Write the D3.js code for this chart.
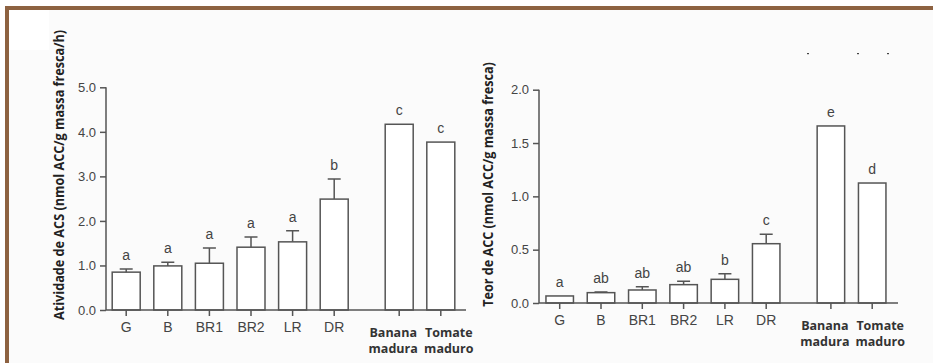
<!DOCTYPE html>
<meta charset="utf-8">
<style>
  body { margin: 0; background: #fff; }
  svg { display: block; font-family: "Liberation Sans", Arial, sans-serif; }
  .tick-label { fill: #444; font-size: 13px; }
  .cat-label { fill: #444; font-size: 14px; text-anchor: middle; }
  .cat-bold { fill: #333; font-size: 12.5px; font-weight: bold; text-anchor: middle; font-family: "Open Sans", sans-serif; }
  .axis-title { fill: #222; font-weight: bold; font-family: "Open Sans", sans-serif; font-size: 14.5px; text-anchor: middle; }
  .letter { fill: #444; font-size: 14px; text-anchor: middle; }
  .bar { fill: #fff; stroke: #555; stroke-width: 1.5; }
  .line { stroke: #555; stroke-width: 1.5; fill: none; }
</style>
<body>
<svg id="chart" width="933" height="363"></svg>
<script src="https://d3js.org/d3.v7.min.js"></script>
<script>
// categories shared by both panels
var categories = ["G", "B", "BR1", "BR2", "LR", "DR", "Banana madura", "Tomate maduro"]

// left panel: ACS activity
var acsValues = [0.85, 0.99, 1.05, 1.41, 1.53, 2.49, 4.17, 3.77]
var acsErrors = [0.07, 0.08, 0.34, 0.23, 0.25, 0.45, null, null]
var acsLetters = ["a", "a", "a", "a", "a", "b", "c", "c"]
var acsTicks = [0, 1, 2, 3, 4, 5]

// right panel: ACC content
var accValues = [0.066, 0.097, 0.122, 0.172, 0.222, 0.556, 1.66, 1.125]
var accErrors = [null, 0.005, 0.031, 0.031, 0.053, 0.088, null, null]
var accLetters = ["a", "ab", "ab", "ab", "b", "c", "e", "d"]
var accTicks = [0, 0.5, 1.0, 1.5, 2.0]

var svg = d3.select("#chart")

// faint scan background + brown page frame
svg.append("rect").attr("x", 9).attr("y", 10).attr("width", 924).attr("height", 353).attr("fill", "#fbfbfb")
svg.append("rect").attr("x", 9).attr("y", 10).attr("width", 40).attr("height", 40).attr("fill", "#fff")
svg.append("rect").attr("x", 5).attr("y", 6).attr("width", 928).attr("height", 4).attr("fill", "#8d6241")
svg.append("rect").attr("x", 5).attr("y", 6).attr("width", 4).attr("height", 357).attr("fill", "#8d6241")

function drawPanel(opt) {
  var g = svg.append("g")
  var y = d3.scaleLinear().domain(opt.domain).range([opt.y0, opt.yTop])
  var x = function(i) { return opt.first + i * opt.step + (i >= 6 ? opt.gap : 0) }

  // y axis
  var yAxis = d3.axisLeft(y).tickValues(opt.ticks).tickSize(6).tickPadding(4)
    .tickFormat(d3.format(".1f"))
  var ya = g.append("g").attr("transform", "translate(" + opt.axisX + ",0)").call(yAxis)
  ya.select(".domain").attr("stroke", "#555").attr("stroke-width", 1.5)
    .attr("d", "M0," + opt.yTop + "V" + opt.y0)
  ya.selectAll(".tick line").attr("stroke", "#555").attr("stroke-width", 1.5)
  ya.selectAll(".tick text").attr("class", "tick-label").attr("font-family", null).attr("font-size", null)

  // bars
  g.selectAll(".bar").data(opt.values).join("rect")
    .attr("class", "bar")
    .attr("x", function(d, i) { return x(i) - opt.barW / 2 })
    .attr("y", function(d) { return y(d) })
    .attr("width", opt.barW)
    .attr("height", function(d) { return opt.y0 - y(d) })

  // error bars (upper only)
  opt.values.forEach(function(v, i) {
    var e = opt.errors[i]
    if (e == null) return
    g.append("path").attr("class", "line")
      .attr("d", "M" + x(i) + "," + y(v) + "V" + y(v + e) +
        "M" + (x(i) - 6.5) + "," + y(v + e) + "H" + (x(i) + 6.5))
  })

  // significance letters
  g.selectAll(".letter").data(opt.letters).join("text")
    .attr("class", "letter")
    .attr("x", function(d, i) { return x(i) })
    .attr("y", function(d, i) {
      var top = opt.values[i] + (opt.errors[i] || 0)
      return y(top) - 9
    })
    .text(function(d) { return d })

  // x axis line + ticks
  g.append("path").attr("class", "line").attr("d", "M" + opt.axisX + "," + opt.y0 + "H" + opt.axisEnd)
  categories.forEach(function(c, i) {
    g.append("path").attr("class", "line").attr("d", "M" + x(i) + "," + opt.y0 + "v6")
    var words = c.split(" ")
    if (words.length == 1) {
      g.append("text").attr("class", "cat-label").attr("x", x(i)).attr("y", opt.y0 + 22).text(c)
    } else {
      var dx = i == 6 ? -6 : 8
      words.forEach(function(w, k) {
        g.append("text").attr("class", "cat-bold").attr("x", x(i) + dx)
          .attr("y", opt.y0 + 27 + k * 16).text(w)
      })
    }
  })

  // y title, squeezed along its length to fit the narrow scanned font
  var t = g.append("text").attr("class", "axis-title").text(opt.title)
  var sx = Math.min(1, opt.titleLen / t.node().getComputedTextLength())
  t.attr("transform", "translate(" + opt.titleX + "," + opt.titleY + ") rotate(-90) scale(" + sx + ",1)")
}

drawPanel({
  domain: [0, 5], y0: 310, yTop: 87.3, ticks: acsTicks,
  axisX: 106, axisEnd: 466, first: 126.2, step: 41.6, gap: 23.4, barW: 28,
  values: acsValues, errors: acsErrors, letters: acsLetters,
  title: "Atividade de ACS (nmol ACC/g massa fresca/h)", titleX: 64, titleY: 175, titleLen: 290
})

drawPanel({
  domain: [0, 2], y0: 303, yTop: 89.7, ticks: accTicks,
  axisX: 539, axisEnd: 898, first: 559.7, step: 41.3, gap: 23.4, barW: 27.5,
  values: accValues, errors: accErrors, letters: accLetters,
  title: "Teor de ACC (nmol ACC/g massa fresca)", titleX: 493, titleY: 184.5, titleLen: 245
})

// small crop remnants near the top right
svg.selectAll(".speck").data([808, 858, 888]).join("rect")
  .attr("x", function(d) { return d - 1 }).attr("y", 53).attr("width", 2).attr("height", 1.2).attr("fill", "#444")
</script>
</body>
